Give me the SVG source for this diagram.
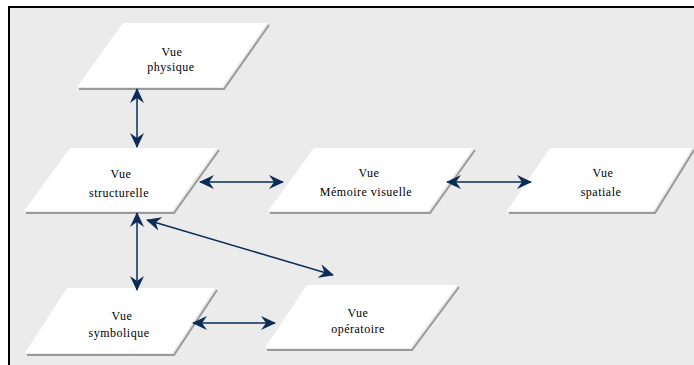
<svg xmlns="http://www.w3.org/2000/svg" width="694" height="365" viewBox="0 0 694 365">
<defs>
<style>
.bg{fill:#ebebeb}
.frame{stroke:#000;stroke-width:2;fill:none}
.shape{fill:#fff;stroke:none}
.shadow{fill:none;stroke:#9a9a9a;stroke-width:2}
.lbl{font-size:12px;fill:#000;text-anchor:middle;letter-spacing:0.5px}
.conn{stroke:#0b2c57;stroke-width:1.5;fill:none;marker-start:url(#ah);marker-end:url(#ah)}
</style>
<marker id="ah" viewBox="0 0 15 14" refX="14" refY="7" markerWidth="15" markerHeight="14" markerUnits="userSpaceOnUse" orient="auto-start-reverse">
<path d="M0,0 L15,7 L0,14 L5,7 z" fill="#0b2c57"/>
</marker>
</defs>
<rect x="0" y="0" width="694" height="365" fill="#fff"/>
<rect class="bg" x="9" y="7" width="690" height="365"/>
<path class="frame" d="M9,366 L9,7 L694,7"/>

<g font-family="'Liberation Serif', 'Times New Roman', serif">
<g id="physique">
<path class="shadow" d="M269,25 L224,89 L79,89"/>
<polygon class="shape" points="123,23 267,23 222,87 77,87"/>
<text class="lbl" x="172" y="56">Vue</text>
<text class="lbl" x="171" y="71">physique</text>
</g>

<g id="structurelle">
<path class="shadow" d="M219,150 L174,213 L26,213"/>
<polygon class="shape" points="70,148 217,148 172,211 24,211"/>
<text class="lbl" x="121" y="178">Vue</text>
<text class="lbl" x="119" y="197">structurelle</text>
</g>

<g id="memoire">
<path class="shadow" d="M475,150 L430,213 L270,213"/>
<polygon class="shape" points="314,148 473,148 428,211 268,211"/>
<text class="lbl" x="369" y="177">Vue</text>
<text class="lbl" x="366" y="196">Mémoire visuelle</text>
</g>

<g id="spatiale">
<path class="shadow" d="M694,150 L655,213 L509,213"/>
<polygon class="shape" points="550,148 692,148 653,211 507,211"/>
<text class="lbl" x="603" y="177">Vue</text>
<text class="lbl" x="601" y="196">spatiale</text>
</g>

<g id="symbolique">
<path class="shadow" d="M217,290 L174,355 L27,355"/>
<polygon class="shape" points="67,288 215,288 172,353 25,353"/>
<text class="lbl" x="122" y="320">Vue</text>
<text class="lbl" x="119" y="337">symbolique</text>
</g>

<g id="operatoire">
<path class="shadow" d="M459,287 L412,350 L267,350"/>
<polygon class="shape" points="307,285 457,285 410,348 265,348"/>
<text class="lbl" x="358" y="317">Vue</text>
<text class="lbl" x="358" y="333">opératoire</text>
</g>
</g>

<g id="connectors">
<line class="conn" x1="137" y1="89" x2="137" y2="147"/>
<line class="conn" x1="200" y1="182" x2="283" y2="182"/>
<line class="conn" x1="447" y1="182" x2="531" y2="182"/>
<line class="conn" x1="137" y1="213" x2="137" y2="290"/>
<line class="conn" x1="147" y1="220" x2="333" y2="275"/>
<line class="conn" x1="193" y1="323" x2="275" y2="323"/>
</g>
</svg>
